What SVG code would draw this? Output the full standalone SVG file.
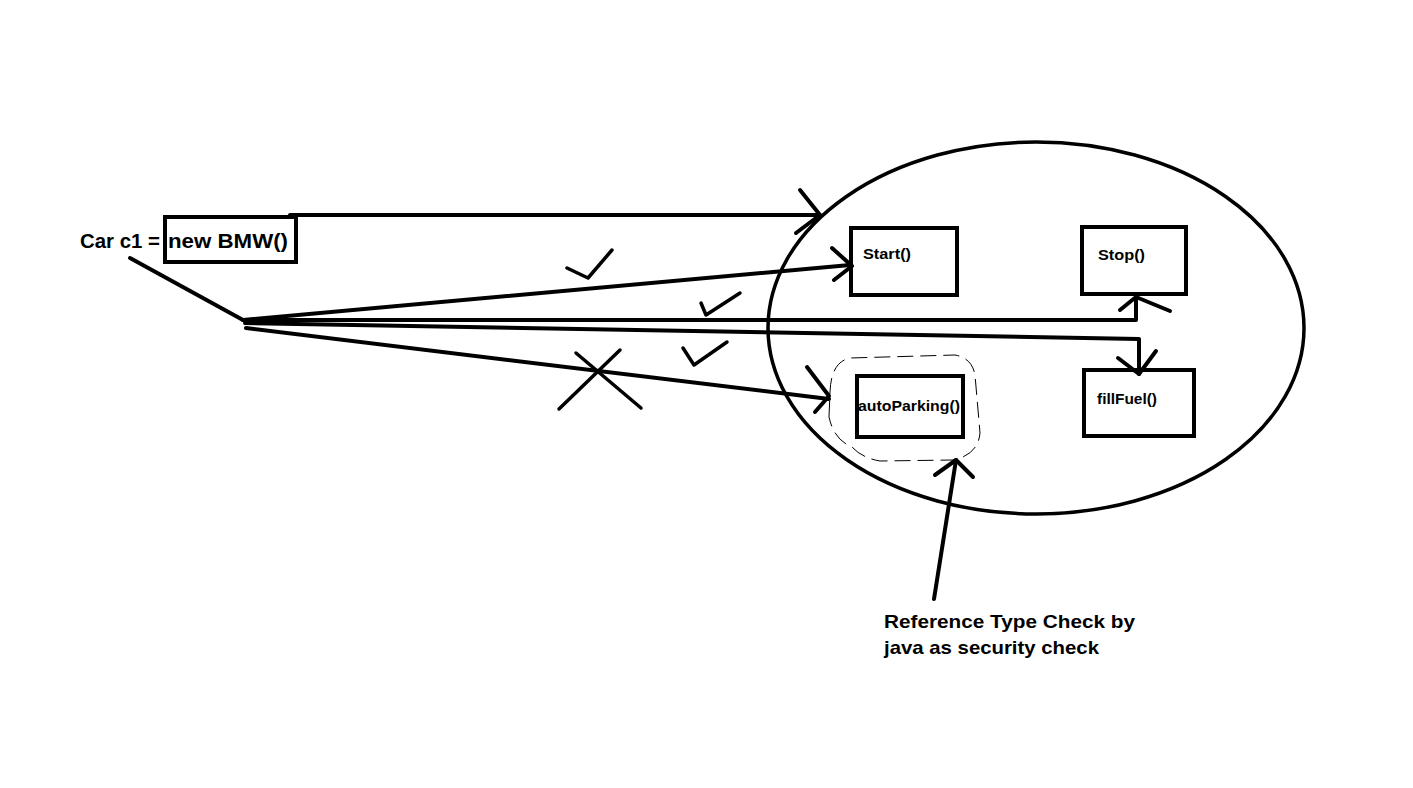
<svg xmlns="http://www.w3.org/2000/svg" width="1413" height="788" viewBox="0 0 1413 788">
<style>
.t{font-family:"Liberation Sans",Arial,sans-serif;font-weight:bold;fill:#000}
.box{fill:none;stroke:#000;stroke-width:4}
.ln{fill:none;stroke:#000;stroke-width:4;stroke-linecap:round;stroke-linejoin:round}
.ln3{fill:none;stroke:#000;stroke-width:3.5;stroke-linecap:round;stroke-linejoin:round}
</style>
<rect width="1413" height="788" fill="#fff"/>
<g id="ellipse">
<ellipse cx="1036" cy="328" rx="268" ry="186" fill="none" stroke="#000" stroke-width="3.5"/>
</g>
<g id="declaration">
<text class="t" x="80" y="248" font-size="20" textLength="80" lengthAdjust="spacingAndGlyphs">Car c1 =</text>
<rect class="box" x="165" y="217" width="131" height="45"/>
<text class="t" x="168" y="248" font-size="20" textLength="120" lengthAdjust="spacingAndGlyphs">new BMW()</text>
</g>
<g id="start">
<rect class="box" x="851" y="228" width="106" height="67"/>
<text class="t" x="863" y="259" font-size="14" textLength="48" lengthAdjust="spacingAndGlyphs">Start()</text>
</g>
<g id="stop">
<rect class="box" x="1082" y="227" width="104" height="67"/>
<text class="t" x="1098" y="260" font-size="14" textLength="47" lengthAdjust="spacingAndGlyphs">Stop()</text>
</g>
<g id="autoParking">
<rect class="box" x="857" y="376" width="106" height="61"/>
<text class="t" x="858" y="411" font-size="14" textLength="102" lengthAdjust="spacingAndGlyphs">autoParking()</text>
<path d="M829,417 L830,392 Q831,362 850,358 L955,355 Q972,358 975,375 L980,433 Q978,455 953,460 L880,461 Q862,458 852,447 Q834,440 829,417" fill="none" stroke="#000" stroke-width="1" stroke-dasharray="16,7"/>
</g>
<g id="fillFuel">
<rect class="box" x="1084" y="370" width="110" height="66"/>
<text class="t" x="1097" y="404" font-size="14" textLength="60" lengthAdjust="spacingAndGlyphs">fillFuel()</text>
</g>
<g id="note">
<text class="t" x="884" y="628" font-size="19" textLength="251" lengthAdjust="spacingAndGlyphs">Reference Type Check by</text>
<text class="t" x="884" y="654" font-size="19" textLength="215" lengthAdjust="spacingAndGlyphs">java as security check</text>
</g>
<g id="connectors">
<path class="ln" d="M130,258 L243,320"/>
<path class="ln" d="M290,215 L820,215"/>
<path class="ln" d="M800,190 L820,215 L796,233"/>
<path class="ln" d="M243,320 L850,265"/>
<path class="ln" d="M832,248 L852,266 L834,280"/>
<path class="ln" d="M243,320 L1136,320 L1136,297"/>
<path class="ln" d="M1120,310 L1136,297 L1170,311"/>
<path class="ln" d="M245,323 L1139,339 L1139,374"/>
<path class="ln" d="M1118,358 L1139,374 L1156,351"/>
<path class="ln" d="M246,328 L829,399"/>
<path class="ln" d="M807,367 L829,396 L815,412"/>
<path class="ln" d="M934,599 L956,460"/>
<path class="ln" d="M935,475 L956,460 L973,477"/>
</g>
<g id="marks">
<path class="ln3" d="M567,268 L588,278 L612,250"/>
<path class="ln3" d="M701,303 L706,315 L740,293"/>
<path class="ln3" d="M683,348 L694,365 L727,342"/>
<path class="ln3" d="M576,353 L641,408"/>
<path class="ln3" d="M620,350 L559,409"/>
</g>
</svg>
